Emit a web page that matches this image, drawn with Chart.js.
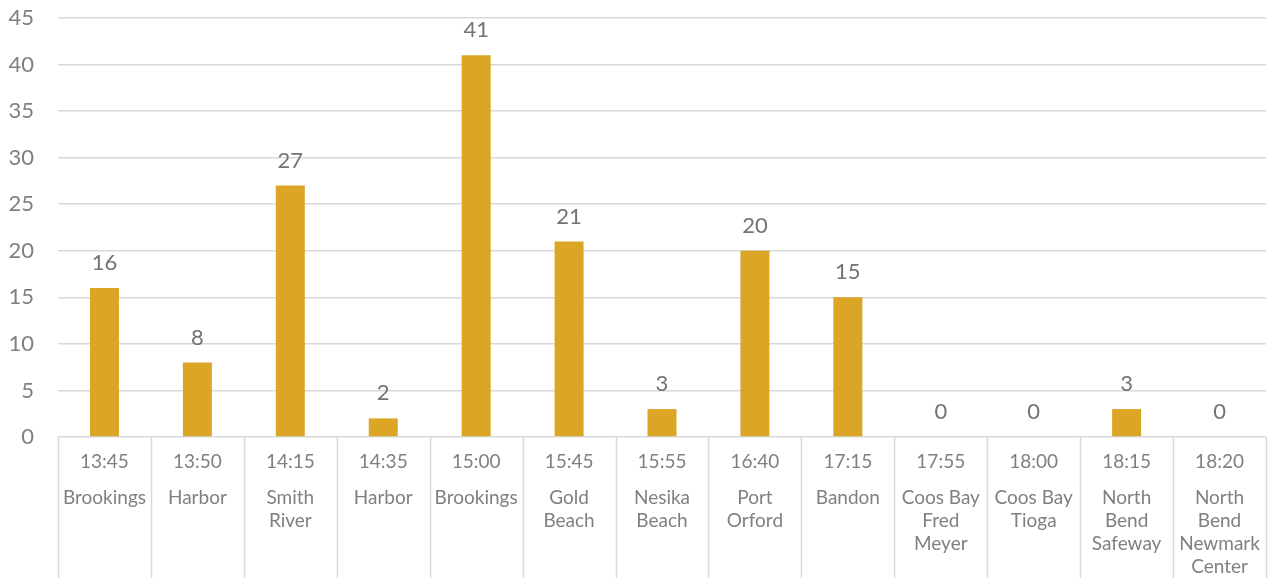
<!DOCTYPE html>
<html>
<head>
<meta charset="utf-8">
<script src="https://cdn.jsdelivr.net/npm/chart.js@4.4.1/dist/chart.umd.min.js"></script>
<style>
  html, body { margin: 0; padding: 0; background: #fff; }
  #wrap { width: 1274px; height: 578px; }
</style>
</head>
<body>
<div id="wrap"><canvas id="stops" width="1274" height="578"></canvas></div>
<script>
const times = ['13:45', '13:50', '14:15', '14:35', '15:00', '15:45', '15:55', '16:40', '17:15', '17:55', '18:00', '18:15', '18:20'];
const stops = [
    ['Brookings'], ['Harbor'], ['Smith', 'River'], ['Harbor'], ['Brookings'],
    ['Gold', 'Beach'], ['Nesika', 'Beach'], ['Port', 'Orford'], ['Bandon'],
    ['Coos Bay', 'Fred', 'Meyer'], ['Coos Bay', 'Tioga'], ['North', 'Bend', 'Safeway'],
    ['North', 'Bend', 'Newmark', 'Center']
];
const riders = [16, 8, 27, 2, 41, 21, 3, 20, 15, 0, 0, 3, 0];

const fontFamily = "'Century Gothic', 'Lato', 'DejaVu Sans', sans-serif";

// value labels over the bars
const valueLabels = {
    id: 'valueLabels',
    afterDatasetsDraw(chart) {
        const ctx = chart.ctx;
        const meta = chart.getDatasetMeta(0);
        ctx.save();
        ctx.font = '22px ' + fontFamily;
        ctx.fillStyle = '#737373';
        ctx.textAlign = 'center';
        ctx.textBaseline = 'middle';
        meta.data.forEach((bar, i) => {
            ctx.fillText(String(riders[i]), bar.x, bar.y - 25);
        });
        ctx.restore();
    }
};

// separators between the categories under the axis
const separators = {
    id: 'separators',
    afterDraw(chart) {
        const ctx = chart.ctx;
        const xs = chart.scales.x;
        const w = xs.width / times.length;
        ctx.save();
        ctx.strokeStyle = '#d9d9d9';
        ctx.lineWidth = 1.5;
        for (let i = 0; i <= times.length; i++) {
            const x = Math.round(xs.left + i * w) + 0.5;
            ctx.beginPath();
            ctx.moveTo(x, chart.chartArea.bottom);
            ctx.lineTo(x, chart.height);
            ctx.stroke();
        }
        ctx.restore();
    }
};

const ctx = document.getElementById('stops').getContext('2d');
new Chart(ctx, {
    type: 'bar',
    data: {
        labels: times,
        datasets: [{
            label: 'riders',
            data: riders,
            backgroundColor: '#DBA526',
            categoryPercentage: 1,
            barPercentage: 0.312
        }]
    },
    options: {
        responsive: false,
        animation: false,
        layout: { padding: { top: 18, right: 8, left: 8, bottom: 0 } },
        plugins: {
            legend: { display: false },
            tooltip: { enabled: false }
        },
        scales: {
            y: {
                min: 0,
                max: 45,
                afterFit(scale) {
                    scale.width = 50;
                    scale.paddingTop = 0;
                },
                ticks: { stepSize: 5, padding: 24, color: '#808080', font: { size: 22, family: fontFamily } },
                grid: { color: '#d9d9d9', lineWidth: 1.5, drawTicks: false },
                border: { display: false }
            },
            x: {
                position: 'bottom',
                ticks: { padding: 13.5, color: '#808080', font: { size: 19, family: fontFamily }, maxRotation: 0, autoSkip: false },
                grid: { display: false, drawTicks: false },
                border: { display: false }
            },
            x2: {
                type: 'category',
                position: 'bottom',
                labels: stops,
                ticks: { padding: 0, color: '#808080', font: { size: 19, family: fontFamily }, maxRotation: 0, autoSkip: false },
                grid: { display: false, drawTicks: false },
                border: { display: false }
            }
        }
    },
    plugins: [valueLabels, separators]
});
</script>
</body>
</html>
